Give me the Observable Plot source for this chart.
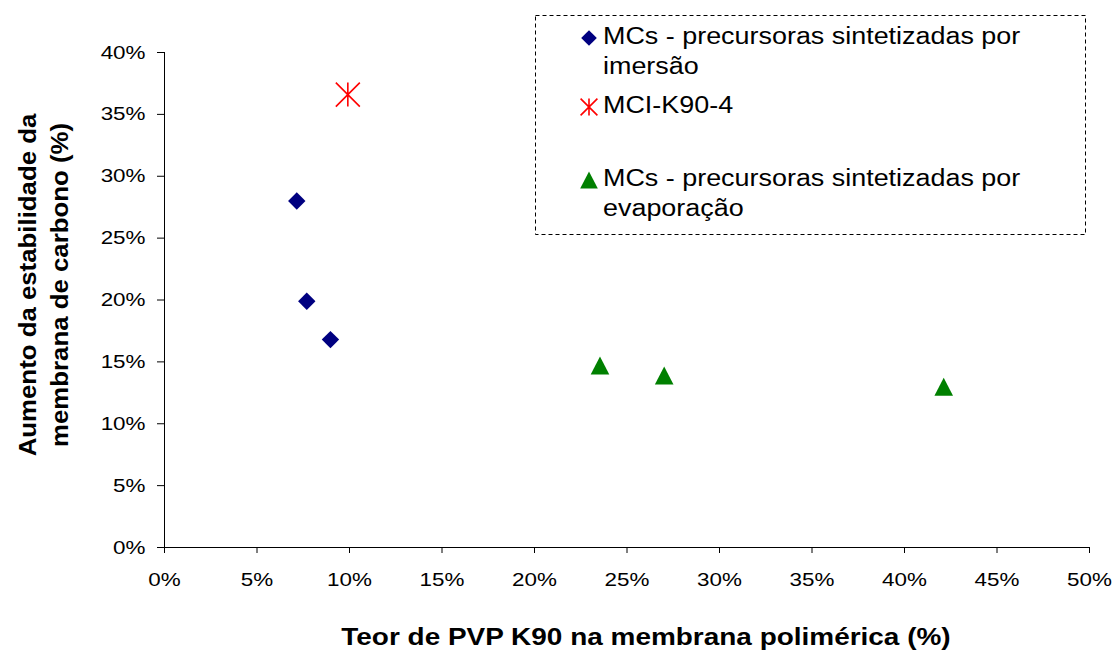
<!DOCTYPE html>
<html><head><meta charset="utf-8">
<script src="https://cdn.jsdelivr.net/npm/d3@7"></script>
<script src="https://cdn.jsdelivr.net/npm/@observablehq/plot@0.6"></script>
<style>body{margin:0;background:#fff;font-family:"Liberation Sans",Arial,sans-serif}</style>
</head><body><div id="chart"></div>
<script>
// Data (% PVP K90, % stability increase)
const imersaoX = [7.15, 7.69, 8.97];
const imersaoY = [28.0, 19.9, 16.8];
const mciX = [9.91];
const mciY = [36.6];
const evapX = [23.54, 27.01, 42.12];
const evapY = [14.7, 13.9, 13.0];
const xTicks = [0, 5, 10, 15, 20, 25, 30, 35, 40, 45, 50];
const yTicks = [0, 5, 10, 15, 20, 25, 30, 35, 40];
const seriesNames = [
  ["MCs - precursoras sintetizadas por", "imersão"],
  ["MCI-K90-4"],
  ["MCs - precursoras sintetizadas por", "evaporação"]
];
const xTitle = "Teor de PVP K90 na membrana polimérica (%)";
const yTitle = ["Aumento da estabilidade da", "membrana de carbono (%)"];

const toRows = (xs, ys) => xs.map((x, i) => ({x, y: ys[i]}));

// Marker shapes
const diamondSym = {draw(ctx) { const r = 8.7; ctx.moveTo(0, -r); ctx.lineTo(r, 0); ctx.lineTo(0, r); ctx.lineTo(-r, 0); ctx.closePath(); }};
const triangleSym = {draw(ctx) { ctx.moveTo(0, -9); ctx.lineTo(9.3, 9); ctx.lineTo(-9.3, 9); ctx.closePath(); }};
const starSym = {draw(ctx) { const r = 12;
  ctx.moveTo(-r, -r); ctx.lineTo(r, r); ctx.moveTo(r, -r); ctx.lineTo(-r, r);
  ctx.moveTo(0, -r); ctx.lineTo(0, r); }};

const plot = Plot.plot({
  width: 1112, height: 655,
  marginLeft: 164, marginRight: 23, marginTop: 52, marginBottom: 108,
  style: {fontFamily: '"Liberation Sans", Arial, sans-serif', background: "#fff", color: "#000"},
  x: {domain: [0, 50]},
  y: {domain: [0, 40]},
  marks: [
    Plot.ruleY([0], {stroke: "#000", strokeOpacity: 1}),
    Plot.ruleX([0], {stroke: "#000", strokeOpacity: 1}),
    Plot.axisX({ticks: xTicks, tickFormat: d => d + "%", tickSize: 6, tickPadding: 19, fontSize: 19, label: null, strokeOpacity: 1}),
    Plot.axisY({ticks: yTicks, tickFormat: d => d + "%", tickSize: 7, tickPadding: 12, fontSize: 19, label: null, strokeOpacity: 1}),
    Plot.dot(toRows(imersaoX, imersaoY), {x: "x", y: "y", symbol: diamondSym, fill: "#000080", stroke: "none"}),
    Plot.dot(toRows(mciX, mciY), {x: "x", y: "y", symbol: starSym, fill: "none", stroke: "#ff0000", strokeWidth: 1.6}),
    Plot.dot(toRows(evapX, evapY), {x: "x", y: "y", symbol: triangleSym, fill: "#008000", stroke: "none"})
  ]
});
document.getElementById("chart").appendChild(plot);

// horizontal glyph stretch (the reference text is wider than plain Arial)
function stretch(sel, f) {
  sel.each(function() {
    const l = this.getComputedTextLength();
    this.setAttribute("textLength", l * f);
    this.setAttribute("lengthAdjust", "spacingAndGlyphs");
  });
}

const svg = d3.select(plot);
stretch(svg.selectAll('g[aria-label="x-axis tick label"] text, g[aria-label="y-axis tick label"] text'), 1.18);

// Axis titles
const xt = svg.append("text").attr("x", 646).attr("y", 639).attr("text-anchor", "middle")
  .attr("dominant-baseline", "middle").attr("font-size", 23).attr("font-weight", "bold").text(xTitle);
stretch(xt, 1.215);
const yt = svg.append("g").attr("transform", "translate(0,285) rotate(-90)");
yTitle.forEach((t, i) => {
  const el = yt.append("text").attr("x", 0).attr("y", 30 + i * 32)
    .attr("text-anchor", "middle").attr("dominant-baseline", "middle")
    .attr("font-size", 24).attr("font-weight", "bold").text(t);
  stretch(el, 1.075);
});

// Legend
const lg = svg.append("g");
lg.append("rect").attr("x", 535.5).attr("y", 15.5).attr("width", 550).attr("height", 219)
  .attr("fill", "#fff").attr("stroke", "#000").attr("stroke-dasharray", "4,3");
const entries = [
  {sym: diamondSym, fill: "#000080", stroke: "none", y: 38, scale: 0.9},
  {sym: starSym, fill: "none", stroke: "#ff0000", y: 107, scale: 0.7},
  {sym: triangleSym, fill: "#008000", stroke: "none", y: 180, scale: 0.95}
];
entries.forEach((e, i) => {
  lg.append("path").attr("d", d3.symbol(e.sym)()).attr("transform", `translate(589,${e.y}) scale(${e.scale})`)
    .attr("fill", e.fill).attr("stroke", e.stroke).attr("stroke-width", 1.6 / e.scale);
  seriesNames[i].forEach((t, j) => {
    const el = lg.append("text").attr("x", 603).attr("y", e.y + j * 30).attr("text-anchor", "start")
      .attr("dominant-baseline", "middle").attr("font-size", 23).text(t);
    stretch(el, 1.17);
  });
});
</script></body></html>
